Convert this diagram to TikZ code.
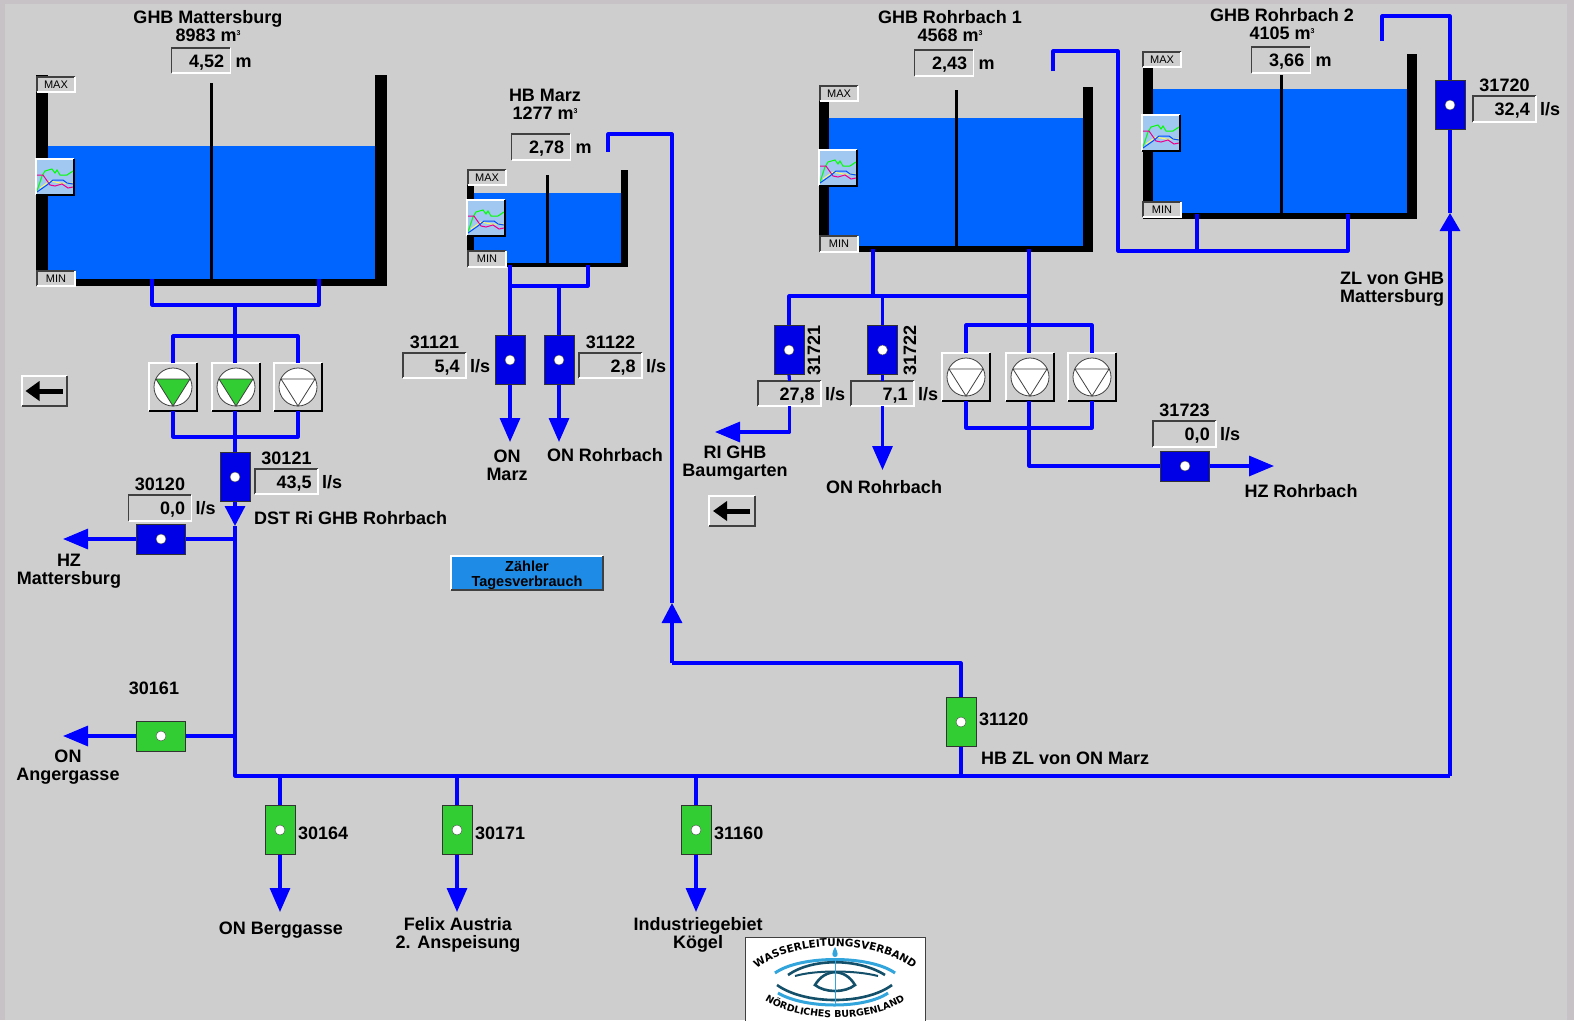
\documentclass[tikz,border=0pt]{standalone}
\usepackage{fontspec}
\setmainfont{Liberation Sans}
\newfontfamily\logofam{DejaVu Sans}
\usetikzlibrary{arrows.meta, calc, positioning, decorations.text}
\definecolor{panelbg}{RGB}{206,206,206}
\definecolor{panelrim}{RGB}{198,194,198}
\definecolor{pipeblue}{RGB}{0,0,255}
\definecolor{waterblue}{RGB}{0,100,255}
\definecolor{meterblue}{RGB}{0,0,230}
\definecolor{metergreen}{RGB}{50,205,50}
\definecolor{btnblue}{RGB}{30,140,230}
\definecolor{trendbg}{RGB}{160,200,240}
\definecolor{bevdark}{RGB}{64,64,64}
\definecolor{logoteal}{RGB}{20,80,105}
\definecolor{logoblue}{RGB}{50,165,220}
\newcommand{\lblfont}{\fontsize{18}{18}\selectfont\bfseries}
\newcommand{\logofont}{\logofam\fontsize{10.5}{10.5}\selectfont\bfseries}
\newcommand{\logofontb}{\logofam\fontsize{9.5}{9.5}\selectfont\bfseries}
\tikzset{
  pipe/.style       = {draw=pipeblue, line width=3.2pt, line join=round},
  pipetip/.style    = {pipe, -{Triangle[length=#1, width=20pt]}},
  pipetip/.default  = 24pt,
  lbl/.style        = {font=\lblfont, align=center, inner sep=0pt},
  valuebox/.style   = {fill=panelbg, font=\lblfont, align=right, inner xsep=6pt, inner ysep=6pt,
                       text height=13pt, text depth=0pt},
  limitbox/.style   = {fill=panelbg, minimum width=37pt, minimum height=15pt, inner sep=0pt,
                       font=\fontsize{11}{11}\selectfont},
  trendbox/.style   = {fill=trendbg, minimum width=37pt, minimum height=35pt, inner sep=0pt},
  pumpbox/.style    = {fill=panelbg, minimum size=47pt, inner sep=0pt},
  pumpdisc/.style   = {circle, draw=bevdark, fill=white, thick, minimum size=38pt, inner sep=0pt},
  backbox/.style    = {fill=panelbg, minimum width=45pt, minimum height=29pt, inner sep=0pt},
  meterv/.style     = {draw=black!80, thick, fill=meterblue, minimum width=30pt, minimum height=49pt, inner sep=0pt},
  meterh/.style     = {meterv, minimum width=49pt, minimum height=30pt},
  greenv/.style     = {meterv, fill=metergreen},
  greenh/.style     = {meterh, fill=metergreen},
  meterdot/.style   = {circle, draw=black!70, fill=white, minimum size=10pt, inner sep=0pt},
  ripple/.style     = {line width=2.6pt, draw=logoteal},
  ripplelt/.style   = {line width=3pt, draw=logoblue},
}
% two sided edge of a box, first the top and left, then the bottom and right
\newcommand{\bevel}[3]{%
  \draw[#2, line width=1.8pt] (#1.south west) |- (#1.north east);
  \draw[#3, line width=1.8pt] (#1.south west) -| (#1.north east);
}
% left x, wall, right x, top, water, inner bottom, outer bottom, gauge x, gauge top
\newcommand{\wtank}[9]{%
  \fill[waterblue] (#1,#5) rectangle (#3,#6);
  \fill[black] (#1,#4) rectangle (#1+#2,#7);
  \fill[black] (#3-#2,#4) rectangle (#3,#7);
  \fill[black] (#1,#6) rectangle (#3,#7);
  \draw[black, line width=3pt] (#8,#9) -- (#8,#6);
}
% the MAX and MIN tags and the trend button of a tank
\newcommand{\tanktags}[5]{%
  \node[limitbox] (#1max) at (#2,#3) {MAX};
  \bevel{#1max}{bevdark}{white}
  \node[limitbox] (#1min) at (#2,#4) {MIN};
  \bevel{#1min}{bevdark}{white}
  \node[trendbox] (#1trend) at (#2-1,#5+18) {};
  \begin{scope}[shift={(#2-20,#5)}, line width=1pt]
    \draw[yellow!60] (4,29) -- (14,22) -- (24,24) -- (37,24);
    \draw[green] (1,32) -- (6,17) -- (9,12) -- (16,10) -- (19,14) -- (21,11) -- (24,16) -- (31,16) -- (37,12);
    \draw[magenta] (1,16) -- (7,16) -- (14,26) -- (19,27) -- (26,25) -- (32,29) -- (37,28);
    \draw[blue!70!cyan] (1,33) -- (11,26) -- (17,21) -- (27,21) -- (31,24) -- (37,25);
  \end{scope}
  \bevel{#1trend}{white}{black}
}
\newcommand{\levelbox}[3]{%
  \node[valuebox, text width=46.5pt] (#1) at (#2) {#3};
  \bevel{#1}{bevdark}{white}
  \node[lbl, anchor=base west] (#1unit) at ([xshift=5pt]#1.base east) {m};
}
\newcommand{\flowbox}[3]{%
  \node[valuebox, text width=50.5pt] (#1) at (#2) {#3};
  \bevel{#1}{bevdark}{white}
  \node[lbl, anchor=base west] (#1unit) at ([xshift=4pt]#1.base east) {l/s};
}
\newcommand{\meter}[3]{%
  \node[#1] (#2) at (#3) {};
  \node[meterdot] (#2dot) at (#2.center) {};
}
% colour of the triangle, name, x, y
\newcommand{\pump}[4]{%
  \node[pumpbox] (#2) at (#3,#4) {};
  \bevel{#2}{white}{black}
  \node[pumpdisc] (#2disc) at (#2.center) {};
  \draw[bevdark, fill=#1, thick] (#3-17,#4-8) -- (#3+17,#4-8) -- (#3,#4+19) -- cycle;
}
\newcommand{\backbtn}[2]{%
  \node[backbox] (#1) at (#2) {};
  \bevel{#1}{white}{bevdark}
  \draw[black, line width=5pt, -{Triangle[length=14pt, width=19pt]}] ([xshift=18pt]#1.center) -- ([xshift=-19pt]#1.center);
}
\newcommand{\cbm}{m\raisebox{6pt}{\fontsize{7}{7}\selectfont 3}}

\begin{document}
\begin{tikzpicture}[x=1pt, y=-1pt]
  \useasboundingbox (0,0) rectangle (1574,1020);
  \fill[panelrim] (0,0) rectangle (1574,1020);
  \fill[panelbg] (5,4) rectangle (1567,1020);

  % tanks
  \wtank{36}{12}{387}{75}{146}{279}{286}{211}{83}
  \wtank{467}{7}{628}{170}{193}{263}{267}{547}{175}
  \wtank{819}{10}{1093}{87}{118}{246}{252}{956}{90}
  \wtank{1143}{10}{1417}{54}{89}{213}{219}{1281}{75}
  \tanktags{tA}{56}{84.5}{278.5}{159}
  \tanktags{tB}{487}{177.5}{259}{200}
  \tanktags{tC}{839}{93.5}{244}{150}
  \tanktags{tD}{1162}{59.5}{209.5}{115}
  \node[lbl] (titleA) at (208,26) {GHB Mattersburg\\8983 \cbm};
  \node[lbl] (titleB) at (545,104.5) {HB Marz\\1277 \cbm};
  \node[lbl] (titleC) at (950,26) {GHB Rohrbach 1\\4568 \cbm};
  \node[lbl] (titleD) at (1282,24) {GHB Rohrbach 2\\4105 \cbm};
  \levelbox{levelA}{201,60.5}{4,52}
  \levelbox{levelB}{541,147}{2,78}
  \levelbox{levelC}{944,63}{2,43}
  \levelbox{levelD}{1281,60}{3,66}

  % meters and pumps
  \meter{meterv}{m30121}{235,477}
  \meter{meterh}{m30120}{161,539}
  \meter{greenh}{m30161}{161,736}
  \meter{meterv}{m31121}{510,360}
  \meter{meterv}{m31122}{559,360}
  \meter{meterv}{m31721}{789,350}
  \meter{meterv}{m31722}{882.5,350}
  \meter{meterh}{m31723}{1185,466}
  \meter{meterv}{m31720}{1450,105}
  \meter{greenv}{m31120}{961,722}
  \pump{metergreen}{pA1}{173}{387}
  \pump{metergreen}{pA2}{236}{387}
  \pump{white}{pA3}{298}{387}
  \foreach \n/\x in {1/966,2/1030,3/1092} {
    \pump{white}{pC\n}{\x}{377}
  }
  \flowbox{v30121}{286.5,481.5}{43,5}
  \flowbox{v30120}{160,508}{0,0}
  \flowbox{v31121}{434.5,365.5}{5,4}
  \flowbox{v31122}{610.5,365.5}{2,8}
  \flowbox{v31721}{789.5,393.5}{27,8}
  \flowbox{v31722}{882.5,393.5}{7,1}
  \flowbox{v31723}{1184.5,434}{0,0}
  \flowbox{v31720}{1504.5,109}{32,4}
  \foreach \id in {30121,30120,31121,31122,31723,31720} {
    \node[lbl, above=4pt of v\id] (id\id) {\id};
  }
  \node[lbl, rotate=90] (id31721) at (814,350) {31721};
  \node[lbl, rotate=90] (id31722) at (910,350) {31722};

  % tank A down to the ring main
  \coordinate (aL) at (152,279);
  \coordinate (aR) at (319,279);
  \coordinate (aH) at (235,305);
  \coordinate (aT) at (235,336);
  \coordinate (aB) at (235,437);
  \coordinate (aTip) at (235,526);
  \coordinate (aJ1) at (235,539);
  \coordinate (aJ2) at (235,736);
  \coordinate (mainW) at (235,776);
  \coordinate (mainE) at (1450,776);
  \coordinate (zlTip) at (1450,213);
  \coordinate (e30120) at (63,539);
  \coordinate (e30161) at (63,736);
  \draw[pipe] (aL) |- (aH) -| (aR);
  \draw[pipe] (aH) -- (aH |- pA2.north);
  \draw[pipe] (pA1.north) |- (aT) -| (pA3.north);
  \draw[pipe] (pA1.south) |- (aB) -| (pA3.south);
  \draw[pipe] (aH |- pA2.south) -- (m30121.north);
  \draw[pipetip=20pt] (m30121.south) -- (aTip);
  \draw[pipe] (aTip) -- (mainW) -- (mainE);
  \draw[pipetip=18pt] (mainE) -- (zlTip);
  \draw[pipe] (zlTip) -- (m31720.south);
  \draw[pipe] (aJ1) -- (m30120.east);
  \draw[pipetip=25pt] (m30120.west) -- (e30120);
  \draw[pipe] (aJ2) -- (m30161.east);
  \draw[pipetip=25pt] (m30161.west) -- (e30161);

  % branches under the main
  \foreach \id/\x in {30164/280,30171/457,31160/696} {
    \meter{greenv}{m\id}{\x,830}
    \coordinate (j\id) at (\x,776);
    \coordinate (e\id) at (\x,912);
    \draw[pipe] (j\id) -- (m\id.north);
    \draw[pipetip] (m\id.south) -- (e\id);
    \node[lbl, anchor=west] (id\id) at (\x+18,833) {\id};
  }

  % feed of HB Marz
  \coordinate (j31120) at (961,776);
  \coordinate (mzC) at (672,663);
  \coordinate (mzTip) at (672,603);
  \coordinate (mzTop) at (672,134);
  \coordinate (mzEnd) at (608,152);
  \draw[pipe] (j31120) -- (m31120.south);
  \draw[pipe] (m31120.north) |- (mzC);
  \draw[pipetip=20pt] (mzC) -- (mzTip);
  \draw[pipe] (mzTip) -- (mzTop) -| (mzEnd);

  % outlets of HB Marz
  \coordinate (bL) at (510,265);
  \coordinate (bR) at (588,265);
  \coordinate (bH) at (559,286);
  \coordinate (e31121) at (510,442);
  \coordinate (e31122) at (559,442);
  \draw[pipe] (bL) -- (m31121.north);
  \draw[pipe] (bR) |- (bH) -- (m31122.north);
  \draw[pipe] (bH) -- (bH -| bL);
  \draw[pipetip] (m31121.south) -- (e31121);
  \draw[pipetip] (m31122.south) -- (e31122);

  % outlets of GHB Rohrbach 1
  \coordinate (cL) at (873,249);
  \coordinate (cR) at (1029,249);
  \coordinate (cH) at (1029,296);
  \coordinate (cK) at (873,296);
  \coordinate (cM) at (882.5,296);
  \coordinate (cT) at (1029,325);
  \coordinate (cB) at (1029,428);
  \coordinate (e31721) at (715,432);
  \coordinate (e31722) at (882.5,470);
  \coordinate (e31723) at (1274,466);
  \draw[pipe] (cR) -- (cR |- pC2.north);
  \draw[pipe] (cL) -- (cK);
  \draw[pipe] (cH) -| (m31721.north);
  \draw[pipe] (cM) -- (m31722.north);
  \draw[pipe] (pC1.north) |- (cT) -| (pC3.north);
  \draw[pipe] (pC1.south) |- (cB) -| (pC3.south);
  \draw[pipe] (cR |- pC2.south) |- (m31723.west);
  \draw[pipe] (m31721.south) -- (v31721.north);
  \draw[pipe] (m31722.south) -- (v31722.north);
  \draw[pipetip=25pt] (v31721.south) |- (e31721);
  \draw[pipetip] (v31722.south) -- (e31722);
  \draw[pipetip=25pt] (m31723.east) -- (e31723);

  % feeds of GHB Rohrbach 1 and 2
  \coordinate (c1In) at (1053,71);
  \coordinate (c1Top) at (1118,51);
  \coordinate (c1Low) at (1118,251);
  \coordinate (dL) at (1197,214);
  \coordinate (dR) at (1348,214);
  \coordinate (d2In) at (1382,41);
  \coordinate (d2Top) at (1382,16);
  \draw[pipe] (c1In) |- (c1Top) -- (c1Low) -| (dR);
  \draw[pipe] (dL) -- (dL |- c1Low);
  \draw[pipe] (m31720.north) |- (d2Top) -- (d2In);

  % texts
  \node[lbl, anchor=west] (dstA) at (254,518) {DST Ri GHB Rohrbach};
  \node[lbl] (hzA) at (69,571) {HZ\\Mattersburg};
  \node[lbl] (idA) at (154,688) {30161};
  \node[lbl] (onA) at (68,767) {ON\\Angergasse};
  \node[lbl] (onB) at (281,930) {ON Berggasse};
  \node[lbl] (felix) at (458,935) {Felix Austria\\2. Anspeisung};
  \node[lbl] (indu) at (698,935) {Industriegebiet\\Kögel};
  \node[lbl, anchor=west] (id31120) at (979,719) {31120};
  \node[lbl, anchor=west] (hbZl) at (981,758) {HB ZL von ON Marz};
  \node[lbl] (onC) at (507,465) {ON\\Marz};
  \node[lbl] (onD) at (605,455) {ON Rohrbach};
  \node[lbl] (riC) at (735,463) {RI GHB\\Baumgarten};
  \node[lbl] (onE) at (884,487) {ON Rohrbach};
  \node[lbl] (hzC) at (1301,491.5) {HZ Rohrbach};
  \node[lbl] (zlD) at (1392,289) {ZL von GHB\\Mattersburg};

  % buttons
  \backbtn{backA}{44.5,391}
  \backbtn{backB}{732,511}
  \node[fill=btnblue, minimum width=152pt, minimum height=32pt, inner sep=0pt, align=center,
        font=\fontsize{14.5}{15.5}\selectfont\bfseries] (zaehler) at (527,573) {\rule{0pt}{15pt}Zähler\\Tagesverbrauch};
  \bevel{zaehler}{white}{bevdark}

  % logo
  \node[draw=bevdark, thick, fill=white, minimum width=180pt, minimum height=90pt, inner sep=0pt] (logo) at (835,982) {};
  \path[decorate, decoration={text along path, text align=center,
      text={|\logofont|WASSERLEITUNGSVERBAND}}]
    (748,977) .. controls (785,936) and (885,936) .. (922,977);
  \path[decorate, decoration={text along path, text align=center,
      text={|\logofontb|NÖRDLICHES BURGENLAND}}]
    (753,990) .. controls (785,1027) and (885,1027) .. (917,990);
  \fill[logoblue] (835,947) .. controls (832,952) and (831,957) .. (835,957) .. controls (839,957) and (838,952) .. (835,947) -- cycle;
  \draw[ripplelt] (775,973) .. controls (800,955) and (870,955) .. (895,973);
  \draw[ripplelt] (778,993) .. controls (805,1009) and (865,1009) .. (888,993);
  \draw[ripple] (788,975) .. controls (812,958) and (858,958) .. (885,975);
  \draw[ripple, line width=2pt] (795,976) .. controls (815,970) and (855,970) .. (878,976);
  \draw[ripple] (777,985) .. controls (805,1005) and (865,1005) .. (892,985);
  \draw[ripple] (815,985) .. controls (825,968) and (845,968) .. (855,985) .. controls (845,993) and (825,993) .. (815,985) -- cycle;
  \draw[logoblue, line width=1pt] (835,960) -- (835,1005);
\end{tikzpicture}
\end{document}
